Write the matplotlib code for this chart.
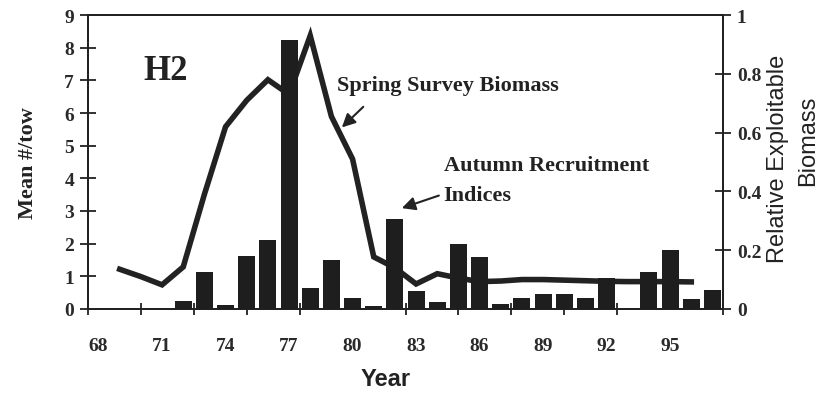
import matplotlib
matplotlib.use('Agg')
import matplotlib.pyplot as plt
from matplotlib.ticker import FixedLocator, NullFormatter

# autumn recruitment index (mean #/tow), one bar per year
bar_years = list(range(72, 98))
recruit = [0.25, 1.12, 0.13, 1.62, 2.1, 8.23, 0.63, 1.5, 0.33, 0.1, 2.75, 0.55, 0.22,
           2.0, 1.6, 0.15, 0.33, 0.45, 0.45, 0.32, 0.95, 0.0, 1.13, 1.8, 0.3, 0.58]

# spring survey relative exploitable biomass
line_years = list(range(69, 97))
biomass = [0.135, 0.11, 0.082, 0.143, 0.39, 0.62, 0.71, 0.78, 0.73, 0.93, 0.655, 0.51,
           0.177, 0.14, 0.085, 0.12, 0.105, 0.093, 0.095, 0.10, 0.10, 0.098, 0.096,
           0.094, 0.093, 0.093, 0.093, 0.092]

year_labels = [68, 71, 74, 77, 80, 83, 86, 89, 92, 95]

serif = 'Liberation Serif'
sans = 'Liberation Sans'
ink = '#222222'

fig = plt.figure(figsize=(8.33, 4.02), dpi=100)
ax = fig.add_axes([0.1056, 0.229, 0.7624, 0.731])
ax2 = ax.twinx()

ax2.plot(line_years, biomass, color=ink, lw=4.0, solid_joinstyle='miter')
ax.bar(bar_years, recruit, width=0.8, color='#1e1e1e', zorder=3)

# bars sit above the biomass line
ax.set_zorder(ax2.get_zorder() + 1)
ax.patch.set_visible(False)

ax.set_xlim(67.5, 97.5)
ax.set_ylim(0, 9)
ax2.set_ylim(0, 1)

ax.set_yticks(range(0, 10))
ax2.set_yticks([0, 0.2, 0.4, 0.6, 0.8, 1.0])
ax2.set_yticklabels(['0', '0.2', '0.4', '0.6', '0.8', '1'])

ax.set_xticks(year_labels)
ax.xaxis.set_minor_locator(FixedLocator([67.5 + 2.5 * k for k in range(13)]))
ax.xaxis.set_minor_formatter(NullFormatter())
ax.tick_params(axis='x', which='major', length=0, pad=20)
ax.tick_params(axis='x', which='minor', direction='inout', length=9, width=1.3, color=ink)
ax.tick_params(axis='y', direction='inout', length=12, width=1.3, color=ink, pad=4)
ax2.tick_params(axis='y', direction='inout', length=12, width=1.3, color=ink, pad=4)

for lab in ax.get_xticklabels() + ax.get_yticklabels() + ax2.get_yticklabels():
    lab.set_fontfamily(serif)
    lab.set_fontweight('bold')
    lab.set_fontsize(14)
    lab.set_color('#2a2a2a')

for a in (ax, ax2):
    for s in a.spines.values():
        s.set_linewidth(1.4)
        s.set_color(ink)

# titles and labels
ax.text(70.1, 7.3, 'H2', fontfamily=serif, fontweight='bold', fontsize=25, color=ink,
        va='center')
fig.text(0.034, 0.595, 'Mean #/tow', rotation=90, fontfamily=serif, fontweight='bold',
         fontsize=16, color=ink, ha='center', va='center')
fig.text(0.463, 0.055, 'Year', fontfamily=sans, fontweight='bold', fontsize=17,
         color=ink, ha='center', va='center')
fig.text(0.934, 0.605, 'Relative Exploitable', rotation=90, fontfamily=sans,
         fontsize=17, color=ink, ha='center', va='center')
fig.text(0.970, 0.650, 'Biomass', rotation=90, fontfamily=sans,
         fontsize=17, color=ink, ha='center', va='center')

# annotations with arrows
ax.text(79.25, 6.85, 'Spring Survey Biomass', fontfamily=serif, fontweight='bold',
        fontsize=16, color=ink, va='center')
ax.annotate('', xy=(79.4, 5.5), xytext=(80.6, 6.25),
            arrowprops=dict(arrowstyle='-|>', color=ink, lw=1.5, mutation_scale=20))
ax.text(84.3, 4.4, 'Autumn Recruitment', fontfamily=serif, fontweight='bold',
        fontsize=16, color=ink, va='center')
ax.text(84.3, 3.5, 'Indices', fontfamily=serif, fontweight='bold',
        fontsize=16, color=ink, va='center')
ax.annotate('', xy=(82.2, 3.06), xytext=(84.2, 3.5),
            arrowprops=dict(arrowstyle='-|>', color=ink, lw=1.5, mutation_scale=20))

fig.savefig('out.png', dpi=100, facecolor='white')
